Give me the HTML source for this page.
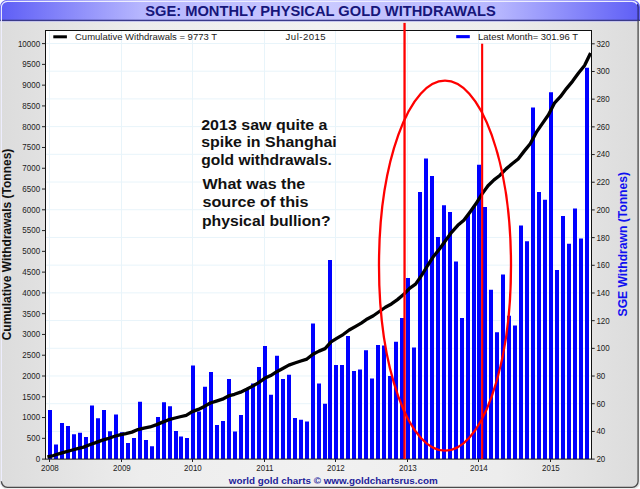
<!DOCTYPE html>
<html><head><meta charset="utf-8"><style>
html,body{margin:0;padding:0;background:#fff;width:640px;height:489px;overflow:hidden}
svg{display:block;font-family:"Liberation Sans",sans-serif}
</style></head><body>
<svg width="640" height="489" viewBox="0 0 640 489">
<defs>
<linearGradient id="hg" x1="0" x2="1" y1="0" y2="0">
<stop offset="0" stop-color="#5e5ef6"/>
<stop offset="0.22" stop-color="#b6b6fe"/>
<stop offset="0.5" stop-color="#cacaff"/>
<stop offset="0.78" stop-color="#b6b6fe"/>
<stop offset="1" stop-color="#5e5ef6"/>
</linearGradient>
<linearGradient id="bg" x1="0" x2="1" y1="0" y2="0">
<stop offset="0" stop-color="#dcdcdc"/>
<stop offset="0.22" stop-color="#ededed"/>
<stop offset="0.5" stop-color="#f1f1f1"/>
<stop offset="0.78" stop-color="#ededed"/>
<stop offset="1" stop-color="#dcdcdc"/>
</linearGradient>
<clipPath id="pc"><rect x="46" y="31" width="545" height="428"/></clipPath>
</defs>

<rect x="0" y="0" width="640" height="489" fill="#fff"/>
<clipPath id="wc"><rect x="0" y="0" width="640" height="489" rx="7"/></clipPath>
<g clip-path="url(#wc)">
<rect x="0" y="0" width="640" height="489" fill="url(#bg)"/>
<rect x="0" y="0" width="640" height="20.5" fill="url(#hg)"/>
<rect x="0" y="19.7" width="640" height="1.4" fill="#3a3a8a"/>
<rect x="0" y="21.1" width="640" height="0.9" fill="#c4c4ee"/>
<rect x="638.5" y="21" width="1.5" height="468" fill="#ececec"/>
<rect x="0" y="487.8" width="640" height="1.2" fill="#f0f0f0"/>
</g>
<path d="M1.4 486 V7.4 a6 6 0 0 1 6 -6 H632 a6 6 0 0 1 5.2 3" fill="none" stroke="#eeeefe" stroke-width="1.1"/>
<path d="M637.3 4.4 a6 6 0 0 1 0.8 3 V20.5" fill="none" stroke="#2a2a6a" stroke-width="1.2"/>
<path d="M638.1 20.5 V481.3 a6 6 0 0 1 -6 6 H7.4 a6 6 0 0 1 -6 -6" fill="none" stroke="#4a4a4a" stroke-width="1.3"/>
<text x="320.5" y="15.9" text-anchor="middle" font-size="14.9" font-weight="bold" fill="#16167a" textLength="350.6" lengthAdjust="spacingAndGlyphs">SGE: MONTHLY PHYSICAL GOLD WITHDRAWALS</text>
<rect x="45.5" y="30.5" width="546.0" height="428.6" fill="#fff"/>
<path d="M45.5 43.5H591.5M45.5 71.21H591.5M45.5 98.91H591.5M45.5 126.62H591.5M45.5 154.33H591.5M45.5 182.03H591.5M45.5 209.74H591.5M45.5 237.45H591.5M45.5 265.15H591.5M45.5 292.86H591.5M45.5 320.57H591.5M45.5 348.27H591.5M45.5 375.98H591.5M45.5 403.69H591.5M45.5 431.39H591.5M49.5 30.5V459.1M121.5 30.5V459.1M192.5 30.5V459.1M264.5 30.5V459.1M335.5 30.5V459.1M407.5 30.5V459.1M478.5 30.5V459.1M550.5 30.5V459.1" stroke="#e8f4fa" stroke-width="1" fill="none"/>
<path d="M48 410.1h4V459.1h-4ZM54 444.6h4V459.1h-4ZM60 422.9h4V459.1h-4ZM66 426h4V459.1h-4ZM72 434.2h4V459.1h-4ZM78 432.7h4V459.1h-4ZM84 437.05h4V459.1h-4ZM90 405.4h4V459.1h-4ZM96 418.3h4V459.1h-4ZM102 410.1h4V459.1h-4ZM108 431.2h4V459.1h-4ZM114 414.6h4V459.1h-4ZM120 432.3h4V459.1h-4ZM126 443.1h4V459.1h-4ZM132 437.9h4V459.1h-4ZM138 401.8h4V459.1h-4ZM144 440.1h4V459.1h-4ZM150 446.3h4V459.1h-4ZM156 416.9h4V459.1h-4ZM162 402.3h4V459.1h-4ZM168 406.2h4V459.1h-4ZM174 431h4V459.1h-4ZM179 436.4h4V459.1h-4ZM185 437.9h4V459.1h-4ZM191 365.5h4V459.1h-4ZM197 411.4h4V459.1h-4ZM203 386.7h4V459.1h-4ZM209 372h4V459.1h-4ZM215 424.9h4V459.1h-4ZM221 421h4V459.1h-4ZM227 379h4V459.1h-4ZM233 431.5h4V459.1h-4ZM239 415.1h4V459.1h-4ZM245 390h4V459.1h-4ZM251 383.4h4V459.1h-4ZM257 367h4V459.1h-4ZM263 346.1h4V459.1h-4ZM269 394.8h4V459.1h-4ZM275 355.7h4V459.1h-4ZM281 379h4V459.1h-4ZM287 374.7h4V459.1h-4ZM293 418.1h4V459.1h-4ZM299 419.7h4V459.1h-4ZM305 421.4h4V459.1h-4ZM311 323.5h4V459.1h-4ZM317 383.6h4V459.1h-4ZM323 403.8h4V459.1h-4ZM328 260.1h4V459.1h-4ZM334 365h4V459.1h-4ZM340 365h4V459.1h-4ZM346 336h4V459.1h-4ZM352 370.9h4V459.1h-4ZM358 369.4h4V459.1h-4ZM364 350.2h4V459.1h-4ZM370 378.4h4V459.1h-4ZM376 345h4V459.1h-4ZM382 345.6h4V459.1h-4ZM388 376.1h4V459.1h-4ZM394 341.8h4V459.1h-4ZM400 317.9h4V459.1h-4ZM406 278h4V459.1h-4ZM412 347.5h4V459.1h-4ZM418 192h4V459.1h-4ZM424 158.6h4V459.1h-4ZM430 176h4V459.1h-4ZM436 237h4V459.1h-4ZM442 205.3h4V459.1h-4ZM448 212h4V459.1h-4ZM454 261.5h4V459.1h-4ZM460 318h4V459.1h-4ZM466 215.1h4V459.1h-4ZM472 206.3h4V459.1h-4ZM477 164.7h4V459.1h-4ZM483 207h4V459.1h-4ZM489 289.8h4V459.1h-4ZM495 332.2h4V459.1h-4ZM501 274.5h4V459.1h-4ZM507 315.8h4V459.1h-4ZM513 325.5h4V459.1h-4ZM519 225.6h4V459.1h-4ZM525 241.2h4V459.1h-4ZM531 107.4h4V459.1h-4ZM537 192h4V459.1h-4ZM543 199.8h4V459.1h-4ZM549 92.3h4V459.1h-4ZM555 269.9h4V459.1h-4ZM561 216h4V459.1h-4ZM567 243.7h4V459.1h-4ZM573 208.4h4V459.1h-4ZM579 238.4h4V459.1h-4ZM585 67.8h4V459.1h-4Z" fill="#0000ff"/>
<polyline clip-path="url(#pc)" points="47.4,456.81 53.44,455.54 59.47,453.63 65.51,451.81 71.54,450.24 77.58,448.62 83.61,447.13 89.65,444.7 95.68,442.65 101.72,440.35 107.76,438.69 113.79,436.53 119.83,434.9 125.86,433.59 131.9,432.13 137.93,429.58 143.97,428.19 150,426.98 156.04,424.88 162.08,422.36 168.11,419.94 174.15,418.27 180.18,416.77 186.22,415.3 192.25,411.67 198.29,409.42 204.32,406.42 210.36,402.99 216.4,401.14 222.43,399.17 228.47,395.94 234.5,394.29 240.54,392.14 246.57,389.25 252.61,386.15 258.64,382.57 264.68,378.36 270.72,375.61 276.75,371.68 282.79,368.46 288.82,365.1 294.86,363.05 300.89,361.04 306.93,359.08 312.96,354.2 319,351.11 325.04,348.63 331.07,341.84 337.11,338.2 343.14,334.55 349.18,330.04 355.21,326.57 361.25,323.06 367.28,318.97 373.32,315.73 379.36,311.49 385.39,307.26 391.43,303.95 397.46,299.61 403.5,294.56 409.53,288.31 415.57,284.14 421.6,275.32 427.64,265.5 433.68,256.2 439.71,248.72 445.75,240.3 451.78,232.08 457.82,225.34 463.85,220.28 469.89,212.15 475.92,203.76 481.96,194.12 488,185.75 494.03,179.86 500.07,175.23 506.1,168.88 512.14,163.76 518.17,158.93 524.21,151.12 530.24,143.77 536.28,132.42 542.32,123.59 548.35,115.01 554.39,103.2 560.42,96.71 566.46,88.61 572.49,81.33 578.53,73 584.56,65.57 590.6,53.03" fill="none" stroke="#000" stroke-width="3.3" stroke-linejoin="round" stroke-linecap="butt"/>
<rect x="45.5" y="30.5" width="546.0" height="428.6" fill="none" stroke="#111" stroke-width="1"/>
<path d="M42 459.1H45.5M42 438.33H45.5M42 417.55H45.5M42 396.78H45.5M42 376H45.5M42 355.23H45.5M42 334.45H45.5M42 313.68H45.5M42 292.9H45.5M42 272.12H45.5M42 251.35H45.5M42 230.58H45.5M42 209.8H45.5M42 189.03H45.5M42 168.25H45.5M42 147.48H45.5M42 126.7H45.5M42 105.93H45.5M42 85.15H45.5M42 64.38H45.5M42 43.6H45.5M591.5 459.1H594.7M591.5 431.41H594.7M591.5 403.73H594.7M591.5 376.04H594.7M591.5 348.35H594.7M591.5 320.67H594.7M591.5 292.98H594.7M591.5 265.29H594.7M591.5 237.61H594.7M591.5 209.92H594.7M591.5 182.23H594.7M591.5 154.55H594.7M591.5 126.86H594.7M591.5 99.17H594.7M591.5 71.49H594.7M591.5 43.8H594.7M49.5 459.1V462M121.5 459.1V462M192.5 459.1V462M264.5 459.1V462M335.5 459.1V462M407.5 459.1V462M478.5 459.1V462M550.5 459.1V462" stroke="#222" stroke-width="1" fill="none"/>
<g font-size="8" fill="#222"><text transform="translate(40.1 462) scale(1 1.18)" text-anchor="end">0</text><text transform="translate(40.1 441.23) scale(1 1.18)" text-anchor="end">500</text><text transform="translate(40.1 420.45) scale(1 1.18)" text-anchor="end">1000</text><text transform="translate(40.1 399.68) scale(1 1.18)" text-anchor="end">1500</text><text transform="translate(40.1 378.9) scale(1 1.18)" text-anchor="end">2000</text><text transform="translate(40.1 358.12) scale(1 1.18)" text-anchor="end">2500</text><text transform="translate(40.1 337.35) scale(1 1.18)" text-anchor="end">3000</text><text transform="translate(40.1 316.58) scale(1 1.18)" text-anchor="end">3500</text><text transform="translate(40.1 295.8) scale(1 1.18)" text-anchor="end">4000</text><text transform="translate(40.1 275.02) scale(1 1.18)" text-anchor="end">4500</text><text transform="translate(40.1 254.25) scale(1 1.18)" text-anchor="end">5000</text><text transform="translate(40.1 233.48) scale(1 1.18)" text-anchor="end">5500</text><text transform="translate(40.1 212.7) scale(1 1.18)" text-anchor="end">6000</text><text transform="translate(40.1 191.93) scale(1 1.18)" text-anchor="end">6500</text><text transform="translate(40.1 171.15) scale(1 1.18)" text-anchor="end">7000</text><text transform="translate(40.1 150.38) scale(1 1.18)" text-anchor="end">7500</text><text transform="translate(40.1 129.6) scale(1 1.18)" text-anchor="end">8000</text><text transform="translate(40.1 108.83) scale(1 1.18)" text-anchor="end">8500</text><text transform="translate(40.1 88.05) scale(1 1.18)" text-anchor="end">9000</text><text transform="translate(40.1 67.28) scale(1 1.18)" text-anchor="end">9500</text><text transform="translate(40.1 46.5) scale(1 1.18)" text-anchor="end">10000</text><text transform="translate(596.4 462) scale(1 1.18)">20</text><text transform="translate(596.4 434.31) scale(1 1.18)">40</text><text transform="translate(596.4 406.63) scale(1 1.18)">60</text><text transform="translate(596.4 378.94) scale(1 1.18)">80</text><text transform="translate(596.4 351.25) scale(1 1.18)">100</text><text transform="translate(596.4 323.57) scale(1 1.18)">120</text><text transform="translate(596.4 295.88) scale(1 1.18)">140</text><text transform="translate(596.4 268.19) scale(1 1.18)">160</text><text transform="translate(596.4 240.51) scale(1 1.18)">180</text><text transform="translate(596.4 212.82) scale(1 1.18)">200</text><text transform="translate(596.4 185.13) scale(1 1.18)">220</text><text transform="translate(596.4 157.45) scale(1 1.18)">240</text><text transform="translate(596.4 129.76) scale(1 1.18)">260</text><text transform="translate(596.4 102.07) scale(1 1.18)">280</text><text transform="translate(596.4 74.39) scale(1 1.18)">300</text><text transform="translate(596.4 46.7) scale(1 1.18)">320</text><text transform="translate(49.9 470.8) scale(1 1.18)" text-anchor="middle">2008</text><text transform="translate(121.9 470.8) scale(1 1.18)" text-anchor="middle">2009</text><text transform="translate(192.9 470.8) scale(1 1.18)" text-anchor="middle">2010</text><text transform="translate(264.9 470.8) scale(1 1.18)" text-anchor="middle">2011</text><text transform="translate(335.9 470.8) scale(1 1.18)" text-anchor="middle">2012</text><text transform="translate(407.9 470.8) scale(1 1.18)" text-anchor="middle">2013</text><text transform="translate(478.9 470.8) scale(1 1.18)" text-anchor="middle">2014</text><text transform="translate(550.9 470.8) scale(1 1.18)" text-anchor="middle">2015</text></g>
<text transform="translate(11 244.5) rotate(-90)" text-anchor="middle" font-size="12" font-weight="bold" fill="#111">Cumulative Withdrawals (Tonnes)</text>
<text transform="translate(626.6 244.2) rotate(-90)" text-anchor="middle" font-size="12" font-weight="bold" fill="#1010f0" textLength="144.5" lengthAdjust="spacingAndGlyphs">SGE Withdrawn (Tonnes)</text>
<rect x="53.3" y="35.3" width="13.6" height="3" fill="#000"/>
<text x="75" y="40.1" font-size="9.6" fill="#1a1a1a" textLength="142" lengthAdjust="spacingAndGlyphs">Cumulative Withdrawals = 9773 T</text>
<text x="285.6" y="40.1" font-size="9.6" fill="#1a1a1a" textLength="40" lengthAdjust="spacing">Jul-2015</text>
<rect x="456.2" y="35.1" width="13.6" height="3.1" fill="#0000ff"/>
<text x="478" y="40.1" font-size="9.6" fill="#1a1a1a" textLength="100" lengthAdjust="spacingAndGlyphs">Latest Month= 301.96 T</text>
<g font-size="15.4" font-weight="bold" fill="#111">
<text x="201.2" y="129.6" textLength="126.3" lengthAdjust="spacingAndGlyphs">2013 saw quite a</text>
<text x="201.2" y="147.35" textLength="135.6" lengthAdjust="spacingAndGlyphs">spike in Shanghai</text>
<text x="201.2" y="165.1" textLength="130.7" lengthAdjust="spacingAndGlyphs">gold withdrawals.</text>
<text x="202.4" y="189.3" textLength="102.8" lengthAdjust="spacingAndGlyphs">What was the</text>
<text x="202.4" y="207.4" textLength="106.2" lengthAdjust="spacingAndGlyphs">source of this</text>
<text x="202.0" y="225.5" textLength="128.6" lengthAdjust="spacingAndGlyphs">physical bullion?</text>
</g>
<ellipse cx="445" cy="265.7" rx="66" ry="185" fill="none" stroke="#ff0000" stroke-width="2.3"/>
<rect x="403.4" y="22.9" width="2.3" height="436.2" fill="#ff0000"/>
<rect x="481.1" y="43.7" width="2.1" height="415.4" fill="#ff0000"/>
<text x="228.8" y="484.4" font-size="9.8" font-weight="bold" fill="#22229a" textLength="209" lengthAdjust="spacingAndGlyphs">world gold charts © www.goldchartsrus.com</text>
</svg></body></html>
